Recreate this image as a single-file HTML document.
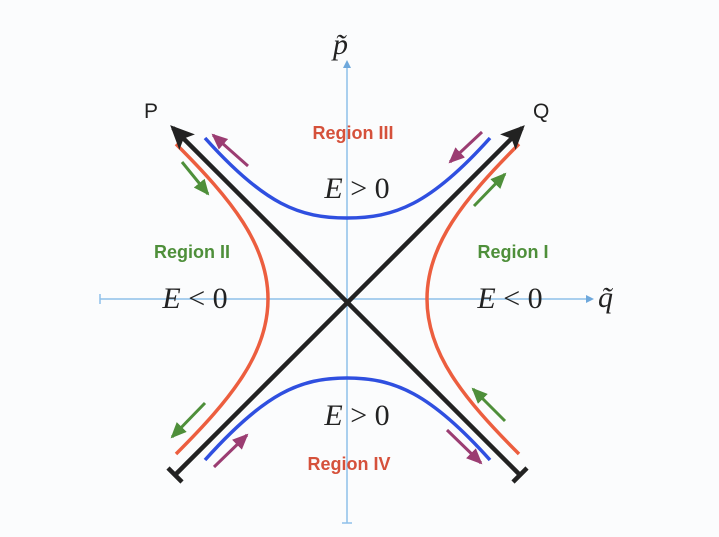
<!DOCTYPE html>
<html><head><meta charset="utf-8"><style>
html,body{margin:0;padding:0;background:#fbfcfd;}
svg{display:block}
.lab{font-family:"Liberation Sans",sans-serif;font-weight:bold;font-size:18px}
.m{font-family:"Liberation Serif",serif;font-size:30px;fill:#222}
</style></head><body>
<svg width="719" height="537" viewBox="0 0 719 537">
<defs>
<marker id="ab" markerWidth="8" markerHeight="8" refX="6" refY="4" orient="auto" markerUnits="userSpaceOnUse"><path d="M0,0 L8,4 L0,8z" fill="#6ea8dc"/></marker>
<marker id="ak" markerWidth="24" markerHeight="22" refX="20" refY="11" orient="auto" markerUnits="userSpaceOnUse"><path d="M0,0 L24,11 L0,22 L5,11z" fill="#222"/></marker>
<marker id="ag" markerWidth="16" markerHeight="14" refX="14" refY="7" orient="auto" markerUnits="userSpaceOnUse"><path d="M0,0 L16,7 L0,14z" fill="#4e8f3a"/></marker>
<marker id="ap" markerWidth="16" markerHeight="14" refX="14" refY="7" orient="auto" markerUnits="userSpaceOnUse"><path d="M0,0 L16,7 L0,14z" fill="#9b3d72"/></marker>
</defs>
<line x1="100" y1="299" x2="592" y2="299" stroke="#8ec0ea" stroke-width="1.5" marker-end="url(#ab)"/>
<line x1="100" y1="294" x2="100" y2="304" stroke="#8ec0ea" stroke-width="1.5"/>
<line x1="347" y1="523" x2="347" y2="62" stroke="#8ec0ea" stroke-width="1.5" marker-end="url(#ab)"/>
<line x1="342" y1="523" x2="352" y2="523" stroke="#8ec0ea" stroke-width="1.5"/>
<path d="M205,138 C265,205 300,218 347,218 C394,218 430,205 490,138" fill="none" stroke="#2f4fe0" stroke-width="3.5"/>
<path d="M205,460 C265,393 300,378 347,378 C394,378 430,393 490,460" fill="none" stroke="#2f4fe0" stroke-width="3.5"/>
<path d="M176,144 C232,200 268,245 268,299 C268,353 232,398 176,454" fill="none" stroke="#ec5e3f" stroke-width="3.5"/>
<path d="M519,144 C463,200 427,245 427,299 C427,353 463,398 519,454" fill="none" stroke="#ec5e3f" stroke-width="3.5"/>
<line x1="175" y1="475" x2="522" y2="128" stroke="#222" stroke-width="4.5" marker-end="url(#ak)"/>
<line x1="520" y1="475" x2="173" y2="128" stroke="#222" stroke-width="4.5" marker-end="url(#ak)"/>
<line x1="168" y1="468" x2="182" y2="482" stroke="#222" stroke-width="4.5"/>
<line x1="513" y1="482" x2="527" y2="468" stroke="#222" stroke-width="4.5"/>
<line x1="248" y1="166" x2="213" y2="135" stroke="#9b3d72" stroke-width="3" marker-end="url(#ap)"/>
<line x1="482" y1="132" x2="450" y2="162" stroke="#9b3d72" stroke-width="3" marker-end="url(#ap)"/>
<line x1="182" y1="162" x2="208" y2="194" stroke="#4e8f3a" stroke-width="3" marker-end="url(#ag)"/>
<line x1="474" y1="206" x2="505" y2="174" stroke="#4e8f3a" stroke-width="3" marker-end="url(#ag)"/>
<line x1="205" y1="403" x2="172" y2="437" stroke="#4e8f3a" stroke-width="3" marker-end="url(#ag)"/>
<line x1="214" y1="467" x2="247" y2="435" stroke="#9b3d72" stroke-width="3" marker-end="url(#ap)"/>
<line x1="505" y1="421" x2="473" y2="389" stroke="#4e8f3a" stroke-width="3" marker-end="url(#ag)"/>
<line x1="447" y1="430" x2="481" y2="463" stroke="#9b3d72" stroke-width="3" marker-end="url(#ap)"/>
<text x="333" y="54" class="m" font-style="italic" font-size="40">p̃</text>
<text x="598" y="307" class="m" font-style="italic" font-size="40">q̃</text>
<text x="144" y="118" font-family="Liberation Sans,sans-serif" font-size="21" fill="#222">P</text>
<text x="533" y="118" font-family="Liberation Sans,sans-serif" font-size="21" fill="#222">Q</text>
<text x="353" y="139" class="lab" fill="#d5513b" text-anchor="middle">Region III</text>
<text x="192" y="258" class="lab" fill="#4e8f3a" text-anchor="middle">Region II</text>
<text x="513" y="258" class="lab" fill="#4e8f3a" text-anchor="middle">Region I</text>
<text x="349" y="470" class="lab" fill="#d5513b" text-anchor="middle">Region IV</text>
<text x="357" y="198" class="m" text-anchor="middle"><tspan font-style="italic">E</tspan> &gt; 0</text>
<text x="357" y="425" class="m" text-anchor="middle"><tspan font-style="italic">E</tspan> &gt; 0</text>
<text x="195" y="308" class="m" text-anchor="middle"><tspan font-style="italic">E</tspan> &lt; 0</text>
<text x="510" y="308" class="m" text-anchor="middle"><tspan font-style="italic">E</tspan> &lt; 0</text>
</svg>
</body></html>
